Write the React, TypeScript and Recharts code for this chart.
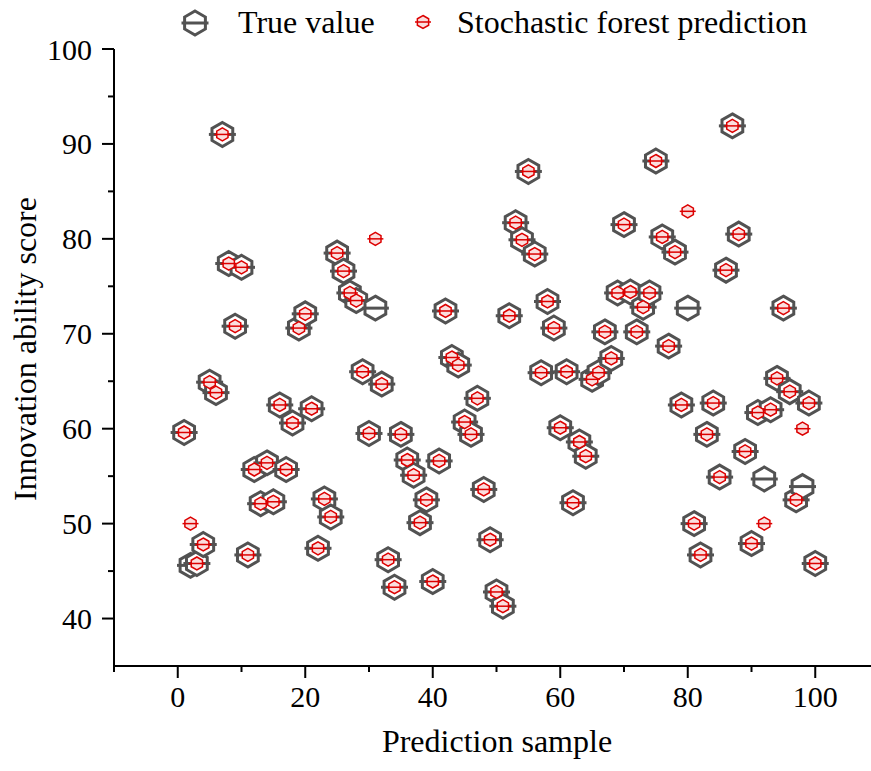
import { Scatter, ScatterChart, XAxis, YAxis } from 'recharts';

// innovation ability score of the 100 prediction samples
const trueValues = [
  59.6, 45.6, 45.8, 47.8, 64.9, 63.8, 91.0, 77.4, 70.8, 77.0,
  46.7, 55.7, 52.1, 56.4, 52.3, 62.5, 55.7, 60.6, 70.6, 72.1,
  62.1, 47.4, 52.6, 50.7, 78.5, 76.6, 74.3, 73.5, 66.0, 59.5,
  72.7, 64.7, 46.2, 43.3, 59.4, 56.7, 55.1, 50.1, 52.5, 43.9,
  56.6, 72.4, 67.5, 66.7, 60.7, 59.4, 63.2, 53.6, 48.3, 42.8,
  41.3, 71.9, 81.7, 79.9, 87.1, 78.4, 65.9, 73.4, 70.6, 60.1,
  66.0, 52.2, 58.6, 57.1, 65.2, 65.9, 70.2, 67.4, 74.3, 81.5,
  74.4, 70.2, 72.8, 74.3, 88.2, 80.2, 68.7, 78.6, 62.5, 72.7,
  50.0, 46.7, 59.4, 62.7, 54.9, 76.7, 91.9, 80.5, 57.6, 47.9,
  61.7, 54.7, 62.0, 65.3, 72.7, 63.9, 52.5, 53.9, 62.7, 45.8,
];

const predictedValues = [
  59.6, 50.0, 45.8, 47.8, 64.9, 63.8, 91.0, 77.4, 70.8, 77.0,
  46.7, 55.7, 52.1, 56.4, 52.3, 62.5, 55.7, 60.6, 70.6, 72.1,
  62.1, 47.4, 52.6, 50.7, 78.5, 76.6, 74.3, 73.5, 66.0, 59.5,
  80.0, 64.7, 46.2, 43.3, 59.4, 56.7, 55.1, 50.1, 52.5, 43.9,
  56.6, 72.4, 67.5, 66.7, 60.7, 59.4, 63.2, 53.6, 48.3, 42.8,
  41.3, 71.9, 81.7, 79.9, 87.1, 78.4, 65.9, 73.4, 70.6, 60.1,
  66.0, 52.2, 58.6, 57.1, 65.2, 65.9, 70.2, 67.4, 74.3, 81.5,
  74.4, 70.2, 72.8, 74.3, 88.2, 80.2, 68.7, 78.6, 62.5, 82.9,
  50.0, 46.7, 59.4, 62.7, 54.9, 76.7, 91.9, 80.5, 57.6, 47.9,
  61.7, 50.0, 62.0, 65.3, 72.7, 63.9, 52.5, 60.0, 62.7, 45.8,
];

const xTicks = [-10, 0, 10, 20, 30, 40, 50, 60, 70, 80, 90, 100];
const yTicks = [40, 45, 50, 55, 60, 65, 70, 75, 80, 85, 90, 95, 100];

const GRAY = '#525252';
const RED = '#dc0000';
const FONT = '"Liberation Serif", "Times New Roman", serif';

const trueData = trueValues.map((value, i) => ({ sample: i + 1, value }));
const predData = predictedValues.map((value, i) => ({ sample: i + 1, value }));

function hexPoints(cx: number, cy: number, r: number) {
  return [90, 30, -30, -90, -150, 150]
    .map((a) => {
      const rad = (a * Math.PI) / 180;
      return `${cx + r * Math.cos(rad)},${cy - r * Math.sin(rad)}`;
    })
    .join(' ');
}

function TrueMarker({ cx, cy }: { cx?: number; cy?: number }) {
  if (cx == null || cy == null) return null;
  return (
    <g>
      <polygon points={hexPoints(cx, cy, 12)} fill="#ffffff" stroke={GRAY} strokeWidth={3} />
      <line x1={cx - 13.5} x2={cx + 13.5} y1={cy} y2={cy} stroke={GRAY} strokeWidth={3} />
    </g>
  );
}

function PredMarker({ cx, cy }: { cx?: number; cy?: number }) {
  if (cx == null || cy == null) return null;
  return (
    <g>
      <polygon points={hexPoints(cx, cy, 6.5)} fill="#fbdede" stroke={RED} strokeWidth={1.5} />
      <line x1={cx - 8} x2={cx + 8} y1={cy} y2={cy} stroke={RED} strokeWidth={1.5} />
    </g>
  );
}

function XTick({ x, y, payload }: any) {
  const major = payload.value % 20 === 0;
  return (
    <g>
      <line x1={x} x2={x} y1={y} y2={y + (major ? 12 : 6)} stroke="#000" strokeWidth={2} />
      {major ? (
        <text x={x} y={y + 41} textAnchor="middle" fontFamily={FONT} fontSize={30} fill="#000">
          {payload.value}
        </text>
      ) : null}
    </g>
  );
}

function YTick({ x, y, payload }: any) {
  const major = payload.value % 10 === 0;
  return (
    <g>
      <line x1={x} x2={x - (major ? 12 : 6)} y1={y} y2={y} stroke="#000" strokeWidth={2} />
      {major ? (
        <text x={x - 22} y={y} dy="0.35em" textAnchor="end" fontFamily={FONT} fontSize={30} fill="#000">
          {payload.value}
        </text>
      ) : null}
    </g>
  );
}

function YTitle() {
  return (
    <text
      x={25}
      y={349}
      dy="0.35em"
      textAnchor="middle"
      transform="rotate(-90, 25, 349)"
      fontFamily={FONT}
      fontSize={32}
      fill="#000"
    >
      Innovation ability score
    </text>
  );
}

function XTitle() {
  return (
    <text x={497} y={741} dy="0.35em" textAnchor="middle" fontFamily={FONT} fontSize={32} fill="#000">
      Prediction sample
    </text>
  );
}

function LegendOverlay() {
  return (
    <svg width={871} height={48} style={{ position: 'absolute', left: 0, top: 0 }}>
      <TrueMarker cx={195} cy={23} />
      <text x={238} y={33} fontFamily={FONT} fontSize={32} fill="#000">
        True value
      </text>
      <PredMarker cx={423} cy={22} />
      <text x={457} y={33} fontFamily={FONT} fontSize={32} fill="#000">
        Stochastic forest prediction
      </text>
    </svg>
  );
}

export default function App() {
  return (
    <div
      style={{
        position: 'fixed',
        left: 0,
        top: 0,
        width: 871,
        height: 771,
        overflow: 'hidden',
        background: '#fff',
      }}
    >
      <ScatterChart width={900} height={771} margin={{ top: 49, right: 21, bottom: 0, left: 0 }}>
        <XAxis
          xAxisId="top"
          orientation="top"
          type="number"
          dataKey="sample"
          domain={[-10, 110]}
          allowDataOverflow
          height={0}
          tick={false}
          tickLine={false}
          axisLine={{ stroke: '#000', strokeWidth: 2 }}
        />
        <XAxis
          type="number"
          dataKey="sample"
          domain={[-10, 110]}
          allowDataOverflow
          ticks={xTicks}
          interval={0}
          height={105}
          tickSize={0}
          tickMargin={0}
          tickLine={false}
          tick={<XTick />}
          axisLine={{ stroke: '#000', strokeWidth: 2 }}
          label={<XTitle />}
        />
        <YAxis
          type="number"
          dataKey="value"
          domain={[35, 100]}
          allowDataOverflow
          ticks={yTicks}
          interval={0}
          width={114}
          tickSize={0}
          tickMargin={0}
          tickLine={false}
          tick={<YTick />}
          axisLine={{ stroke: '#000', strokeWidth: 2 }}
          label={<YTitle />}
        />
        <Scatter data={trueData} shape={<TrueMarker />} isAnimationActive={false} />
        <Scatter data={predData} shape={<PredMarker />} isAnimationActive={false} />
      </ScatterChart>
      <LegendOverlay />
    </div>
  );
}
